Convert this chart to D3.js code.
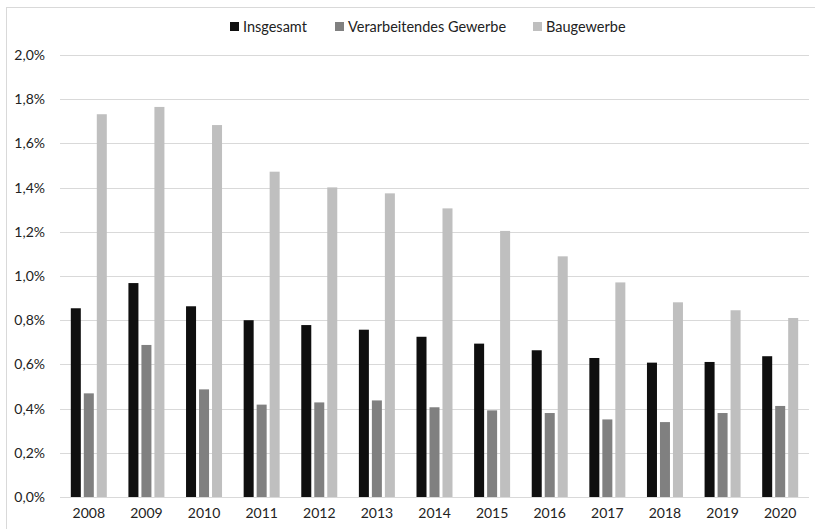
<!DOCTYPE html>
<html><head><meta charset="utf-8">
<script src="https://cdn.jsdelivr.net/npm/d3@7/dist/d3.min.js"></script>
<style>body{margin:0;background:#fff}svg{display:block}text{font-family:Lato,"Open Sans",sans-serif;fill:#222}</style>
</head><body>
<script>
const years = ["2008","2009","2010","2011","2012","2013","2014","2015","2016","2017","2018","2019","2020"];
const seriesNames = ["Insgesamt","Verarbeitendes Gewerbe","Baugewerbe"];
const insgesamt = [0.854,0.968,0.863,0.800,0.778,0.757,0.725,0.694,0.664,0.629,0.608,0.611,0.637];
const verarbeitend = [0.469,0.688,0.487,0.418,0.428,0.437,0.406,0.392,0.380,0.351,0.339,0.380,0.412];
const baugewerbe = [1.732,1.765,1.683,1.472,1.401,1.374,1.306,1.204,1.089,0.971,0.881,0.845,0.810];
const yTicks = [0,0.2,0.4,0.6,0.8,1.0,1.2,1.4,1.6,1.8,2.0];
const colors = ["#0f0f0f","#808080","#bfbfbf"];

const W=815,H=529;
const svg=d3.select("body").append("svg").attr("width",W).attr("height",H);
svg.append("rect").attr("x",6.5).attr("y",7.5).attr("width",W).attr("height",H).attr("fill","none").attr("stroke","#d9d9d9");

const x=d3.scaleBand().domain(years).range([60,809]);
const y=d3.scaleLinear().domain([0,2]).range([497,55]);
const x1=d3.scaleBand().domain([0,1,2]).range([0,36]).paddingInner(0.23);

const g=svg.append("g");
g.selectAll("line.grid").data(yTicks).enter().append("line")
 .attr("x1",60).attr("x2",809).attr("y1",d=>Math.round(y(d))+0.5).attr("y2",d=>Math.round(y(d))+0.5)
 .attr("stroke","#d9d9d9").attr("stroke-width",1.2);

const yAxis=d3.axisLeft(y).tickValues(yTicks).tickSize(0).tickPadding(0)
 .tickFormat(d=>d.toFixed(1).replace(".",",")+"%");
const ya=svg.append("g").attr("transform","translate(45,0)").call(yAxis);
ya.select(".domain").remove();
ya.selectAll("text").attr("font-size",14).style("font-family","Lato,'Open Sans',sans-serif").attr("fill","#222");

const xAxis=d3.axisBottom(x).tickSize(0).tickPadding(0);
const xa=svg.append("g").attr("transform","translate(0,508)").call(xAxis);
xa.select(".domain").remove();
xa.selectAll("text").attr("font-size",14).style("font-family","Lato,'Open Sans',sans-serif").attr("fill","#222");

const data=[insgesamt,verarbeitend,baugewerbe];
data.forEach((arr,si)=>{
  svg.append("g").selectAll("rect").data(arr).enter().append("rect")
   .attr("x",(d,i)=>x(years[i])+x.bandwidth()/2-18+x1(si))
   .attr("width",x1.bandwidth())
   .attr("y",d=>y(d)).attr("height",d=>y(0)-y(d))
   .attr("fill",colors[si]);
});

const legend=svg.append("g");
const lx=[230,335,533];
seriesNames.forEach((n,i)=>{
  legend.append("rect").attr("x",lx[i]).attr("y",22).attr("width",9).attr("height",9).attr("fill",colors[i]);
  legend.append("text").attr("x",lx[i]+13).attr("y",31.5).attr("font-size",14.5).text(n);
});
</script>
</body></html>
